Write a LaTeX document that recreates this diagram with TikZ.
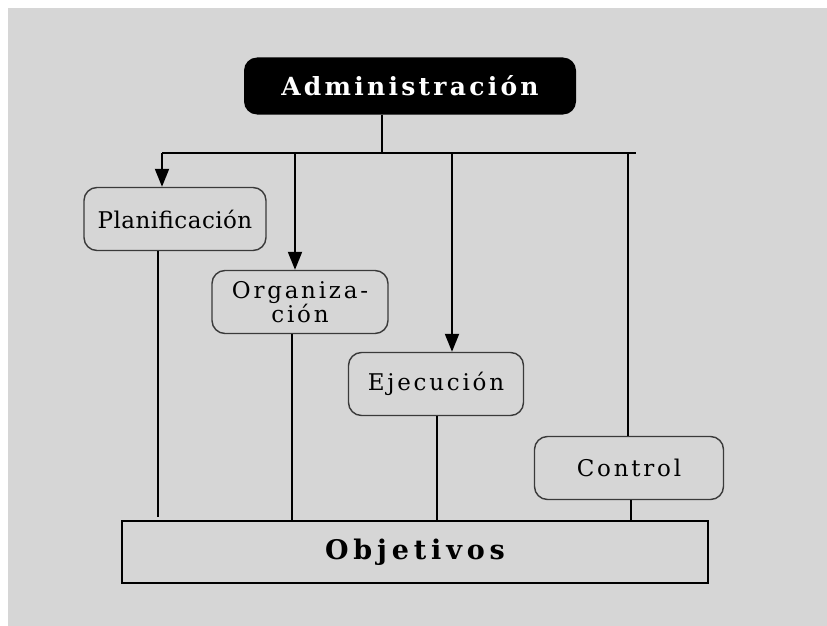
\documentclass[tikz,border=0pt]{standalone}
\usepackage{fontspec}
\setmainfont{DejaVu Serif}
\usetikzlibrary{arrows.meta}
\definecolor{panel}{HTML}{D6D6D6}
\definecolor{rim}{HTML}{3A3A3A}
\tikzset{
  stage/.style={draw=rim, line width=1.4pt, rounded corners=13pt, fill=panel,
    inner sep=0pt, align=center,
    font=\fontsize{23}{20}\selectfont\addfontfeatures{LetterSpace=12}},
  link/.style={line width=2pt, draw=black},
  feed/.style={link, -{Triangle[length=18pt,width=14pt]}},
}
\begin{document}
\begin{tikzpicture}[x=1pt,y=-1pt]
  % canvas and panel
  \fill[white] (0,0) rectangle (827,626);
  \fill[panel] (8,8) rectangle (827,626);
  \useasboundingbox (0,0) rectangle (827,626);

  % top box
  \node[fill=black, rounded corners=13pt, minimum width=332pt, minimum height=57pt,
        text=white, inner sep=0pt,
        font=\fontsize{25}{27}\selectfont\bfseries\addfontfeatures{LetterSpace=13}]
        (adm) at (410,86) {Administración};

  % function boxes
  \node[stage, minimum width=182pt, minimum height=63pt,
        font=\fontsize{23}{20}\selectfont\addfontfeatures{LetterSpace=2}]
        (pla) at (175,219) {Planificación};
  \node[stage, minimum width=176pt, minimum height=63pt] (org) at (300,302) {Organiza-\\ción};
  \node[stage, minimum width=175pt, minimum height=63pt] (eje) at (436,384) {Ejecución};
  \node[stage, minimum width=189pt, minimum height=63pt] (con) at (629,468) {Control};

  % goals box
  \node[draw=black, line width=2pt, minimum width=586pt, minimum height=62pt, inner sep=0pt,
        font=\fontsize{27}{29}\selectfont\bfseries\addfontfeatures{LetterSpace=18}]
        (obj) at (415,552) {Objetivos};

  % distribution bar
  \coordinate (hub) at (382,153);
  \coordinate (barL) at (162,153);
  \coordinate (barR) at (636,153);
  \draw[link] (adm.south -| hub) -- (hub);
  \draw[link] (barL) -- (barR);
  \draw[feed] (barL) -- (pla.north -| barL);
  \draw[feed] (295,153) -- (org.north -| 295,0);
  \draw[feed] (452,153) -- (eje.north -| 452,0);
  \draw[link] (628,153) -- (con.north -| 628,0);

  % links down to the goals
  \coordinate (stub) at (158,517);
  \draw[link] (pla.south -| stub) -- (stub);
  \draw[link] (org.south -| 292,0) -- (obj.north -| 292,0);
  \draw[link] (eje.south -| 437,0) -- (obj.north -| 437,0);
  \draw[link] (con.south -| 631,0) -- (obj.north -| 631,0);
\end{tikzpicture}
\end{document}
